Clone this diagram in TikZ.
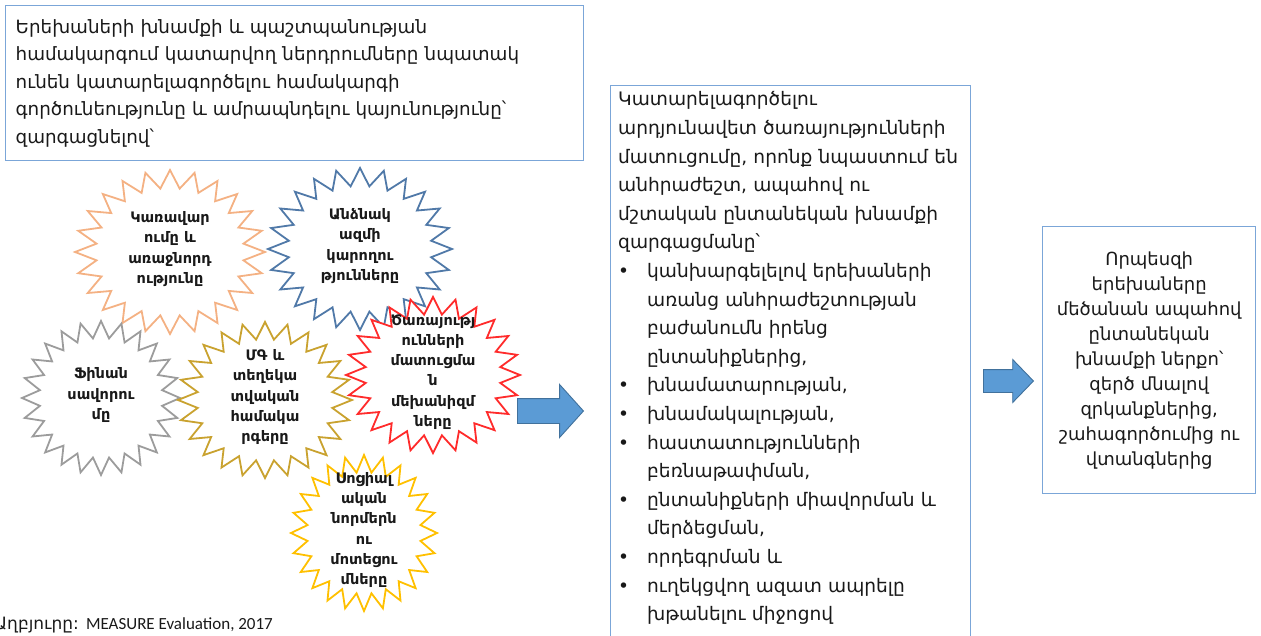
\documentclass[tikz,border=0pt]{standalone}
\usepackage{fontspec}
\setmainfont{DejaVu Sans}
\newfontfamily\calib{Carlito}
\usetikzlibrary{shapes.arrows,positioning}

\definecolor{boxblue}{HTML}{7BA6D8}
\definecolor{arrowblue}{HTML}{5B9BD5}
\definecolor{arrowedge}{HTML}{41719C}
\definecolor{orangeburst}{HTML}{F4B183}
\definecolor{blueburst}{HTML}{5079A8}
\definecolor{grayburst}{HTML}{9C9C9C}
\definecolor{goldburst}{HTML}{C9A22F}
\definecolor{redburst}{HTML}{FF2B2B}
\definecolor{yellowburst}{HTML}{FFC000}

\begin{document}
\begin{tikzpicture}[x=1pt,y=-1pt,
  every node/.style={align=center,inner sep=0pt,text=black!90},
  box/.style={draw=boxblue,line width=1.4pt,fill=white,inner xsep=10pt},
  burst/.style={line width=1.8pt,fill=white,line join=miter},
  bursttext/.style={font=\bfseries\fontsize{14.5}{20.2}\selectfont},
  bigarrow/.style={single arrow,draw=arrowedge,fill=arrowblue,line width=0.9pt,anchor=tail}]
\useasboundingbox (0,0) rectangle (1261,636);

\node[box,anchor=north west,text width=558pt,inner ysep=6pt,align=left,minimum height=155pt,
  font=\fontsize{18.3}{27.5}\selectfont] (goal) at (5,5)
  {Երեխաների խնամքի և պաշտպանության\\
   համակարգում կատարվող ներդրումները նպատակ\\
   ունեն կատարելագործելու համակարգի\\
   գործունեությունը և ամրապնդելու կայունությունը՝\\
   զարգացնելով՝};

% building blocks of the system
\foreach \nm/\bx/\by/\brx/\bry/\col/\txt in {
  gov/170/252/95/82/orangeburst/{Կառավար\\ումը և\\առաջնորդ\\ությունը},
  staff/360/249/92/81/blueburst/{Անձնակ\\ազմի\\կարողու\\թյունները},
  fin/101/398/79/77/grayburst/{Ֆինան\\սավորու\\մը},
  meis/265/400/87/78/goldburst/{ՄԳ և\\տեղեկա\\տվական\\համակա\\րգերը},
  serv/433/375/87/78/redburst/{Ծառայությ\\ունների\\մատուցմա\\ն\\մեխանիզմ\\ները},
  soc/364/533/73/78/yellowburst/{Սոցիալ\\ական\\նորմերն\\ու\\մոտեցու\\մները}}{
  \draw[burst,draw=\col,shift={(\bx,\by)}] plot[samples at={0,...,47}]
    ({90+7.5*\x}:{\brx*(1-0.22*mod(\x,2))} and {\bry*(1-0.22*mod(\x,2))}) -- cycle;
  \node[bursttext] (\nm) at (\bx,\by-3) {\txt};
}

\node[bigarrow,minimum height=66pt,inner ysep=12pt,single arrow head extend=14pt,
  single arrow tip angle=96] (arrowA) at (517,411) {};

\node[box,anchor=north west,text width=345pt,inner xsep=7.5pt,inner ysep=6pt,align=left,
  font=\fontsize{18.6}{28.6}\selectfont] (services) at (610,85)
  {Կատարելագործելու\\
   արդյունավետ ծառայությունների\\
   մատուցումը, որոնք նպաստում են\\
   անհրաժեշտ, ապահով ու\\
   մշտական ընտանեկան խնամքի\\
   զարգացմանը՝\\
   \makebox[29pt][l]{•}կանխարգելելով երեխաների\\
   \hspace*{29pt}առանց անհրաժեշտության\\
   \hspace*{29pt}բաժանումն իրենց\\
   \hspace*{29pt}ընտանիքներից,\\
   \makebox[29pt][l]{•}խնամատարության,\\
   \makebox[29pt][l]{•}խնամակալության,\\
   \makebox[29pt][l]{•}հաստատությունների\\
   \hspace*{29pt}բեռնաթափման,\\
   \makebox[29pt][l]{•}ընտանիքների միավորման և\\
   \hspace*{29pt}մերձեցման,\\
   \makebox[29pt][l]{•}որդեգրման և\\
   \makebox[29pt][l]{•}ուղեկցվող ազատ ապրելը\\
   \hspace*{29pt}խթանելու միջոցով\rule[-30pt]{0pt}{0pt}};

\node[bigarrow,minimum height=50pt,inner ysep=11pt,single arrow head extend=10pt,
  single arrow tip angle=92] (arrowB) at (983,381) {};

\node[box,anchor=north west,text width=193pt,minimum height=267pt,
  font=\fontsize{18}{25}\selectfont] (result) at (1042,226)
  {Որպեսզի\\
   երեխաները\\
   մեծանան ապահով\\
   ընտանեկան\\
   խնամքի ներքո՝\\
   զերծ մնալով\\
   զրկանքներից,\\
   շահագործումից ու\\
   վտանգներից};

\node[anchor=base west,font=\fontsize{17}{20}\selectfont] (source) at (-6,629)
  {Աղբյուրը: {\calib MEASURE Evaluation, 2017}};
\end{tikzpicture}
\end{document}
